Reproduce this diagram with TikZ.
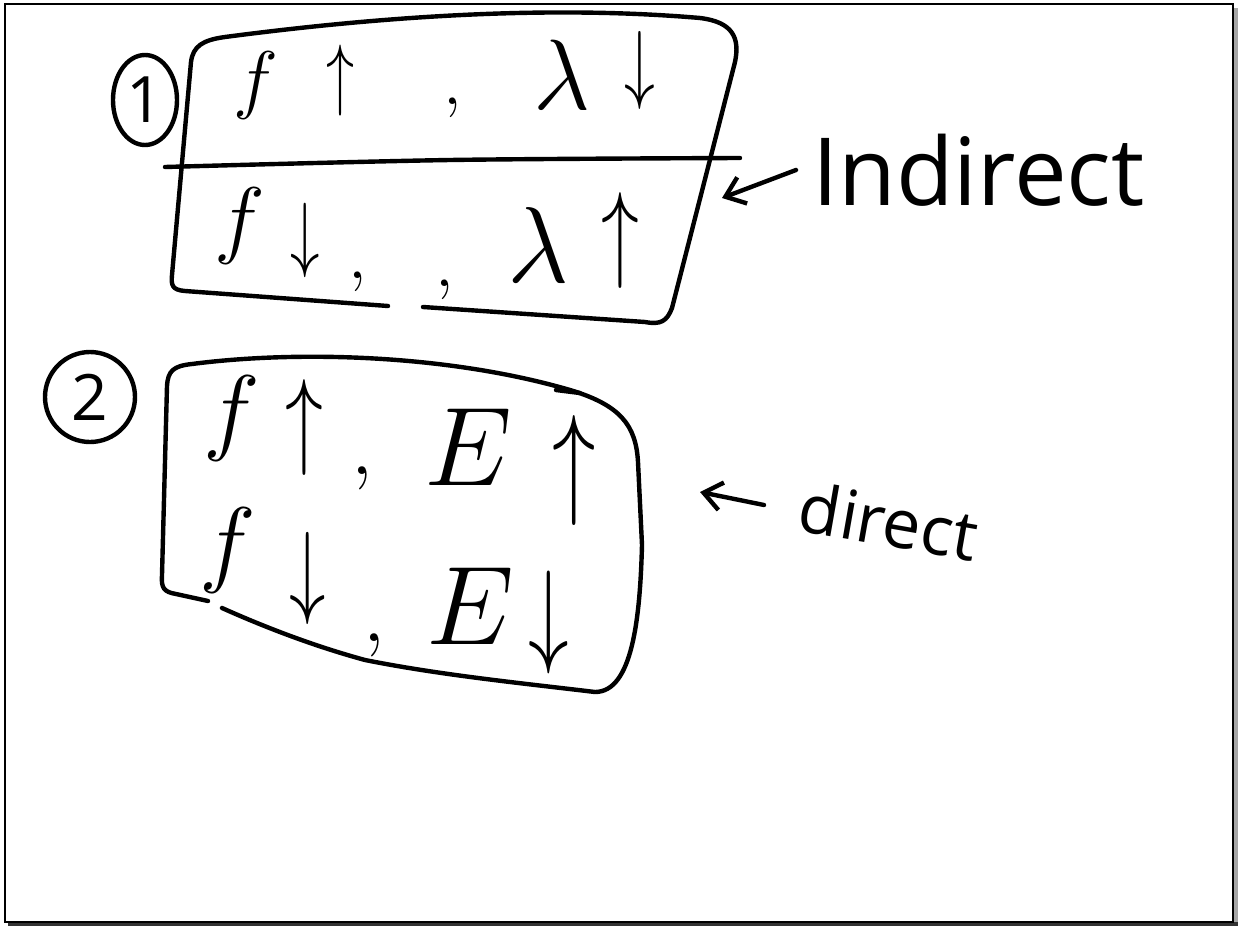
\RequirePackage{fix-cm}
\documentclass[tikz,border=0pt]{standalone}
\usepackage{fontspec}
\setsansfont{Open Sans}
\usetikzlibrary{arrows.meta,shapes.geometric}
% narrow, hand-written looking arrows
\newcommand\slimarrow[1]{\scalebox{0.7}[1]{$#1$}}
\begin{document}
\begin{tikzpicture}[x=0.5pt,y=-0.5pt,
  ink/.style={line width=2.2pt, line cap=round, line join=round},
  sym/.style={inner sep=0pt, font=\fontsize{#1}{#1}\selectfont},
  word/.style={inner sep=0pt, anchor=west, font=\sffamily\fontsize{#1}{#1}\selectfont},
  numring/.style={ink, draw, inner sep=0pt, font=\sffamily\fontsize{32}{38}\selectfont},
  pointer/.style={ink, -{Straight Barb[length=9pt,width=14pt,line width=2.2pt]}}]
\useasboundingbox (0,0) rectangle (1238,926);
% page frame with its shadow
\fill[gray!70] (1233,8) rectangle (1238,926);
\fill[black!80] (8,922) rectangle (1238,926);
\draw[line width=1.4pt] (5,4) rectangle (1233,922);

% ---- group 1: inverse relation ----
\node[numring, ellipse, minimum width=32pt, minimum height=45pt] (n1) at (145,100) {1};
\draw[ink] (388,306) -- (185,291) .. controls (172,290) and (171,285) .. (172,275)
      -- (191,62) .. controls (193,46) and (203,40) .. (225,37)
      .. controls (400,14) and (560,6) .. (700,18)
      .. controls (733,22) and (740,38) .. (735,62)
      -- (672,308) .. controls (667,321) and (661,325) .. (645,322) -- (423,307);
\draw[ink] plot[smooth] coordinates {(165,167) (450,160) (740,158)};
\node[sym=38] (a1) at (256,85) {$f$};
\node[sym=40] (a2) at (340,80) {\slimarrow\uparrow};
\node[sym=34] (a3) at (453,108) {$,$};
\node[sym=50] (a4) at (562,75) {$\lambda$};
\node[sym=44] (a5) at (640,70) {\slimarrow\downarrow};
\node[sym=43] (b1) at (240,226) {$f$};
\node[sym=42] (b2) at (305,240) {\slimarrow\downarrow};
\node[sym=34] (b3) at (358,282) {$,$};
\node[sym=34] (b4) at (445,290) {$,$};
\node[sym=54] (b5) at (538,245) {$\lambda$};
\node[sym=54] (b6) at (620,240) {\slimarrow\uparrow};
\coordinate (g1) at (722,198);
\node[word=47] (w1) at (812,170) {Indirect};
\draw[pointer] ([xshift=-8]w1.west) -- (g1);

% ---- group 2: direct relation ----
\node[numring, circle, minimum size=45pt] (n2) at (90,397) {2};
\draw[ink] (208,601) -- (176,594) .. controls (164,592) and (161,588) .. (162,575)
      -- (167,386) .. controls (168,371) and (173,366) .. (192,364)
      .. controls (300,350) and (450,355) .. (570,390)
      .. controls (620,405) and (636,425) .. (638,462)
      -- (642,545) .. controls (640,620) and (632,692) .. (595,692)
      .. controls (520,683) and (440,675) .. (365,660)
      .. controls (310,645) and (260,625) .. (222,608);
\draw[ink] (556,390) -- (580,393);
\node[sym=48] (c1) at (232,418) {$f$};
\node[sym=54] (c2) at (304,427) {\slimarrow\uparrow};
\node[sym=40] (c3) at (362,478) {$,$};
\node[sym=56] (c4) at (468,447) {$E$};
\node[sym=62] (c5) at (574,470) {\slimarrow\uparrow};
\node[sym=48] (d1) at (228,550) {$f$};
\node[sym=52] (d2) at (308,578) {\slimarrow\downarrow};
\node[sym=40] (d3) at (374,645) {$,$};
\node[sym=56] (d4) at (470,606) {$E$};
\node[sym=58] (d5) at (549,622) {\slimarrow\downarrow};
\coordinate (g2) at (700,492);
\node[word=34, rotate=-10] (w2) at (800,505) {direct};
\draw[pointer] ([xshift=-18]w2.west) -- (g2);
\end{tikzpicture}
\end{document}
